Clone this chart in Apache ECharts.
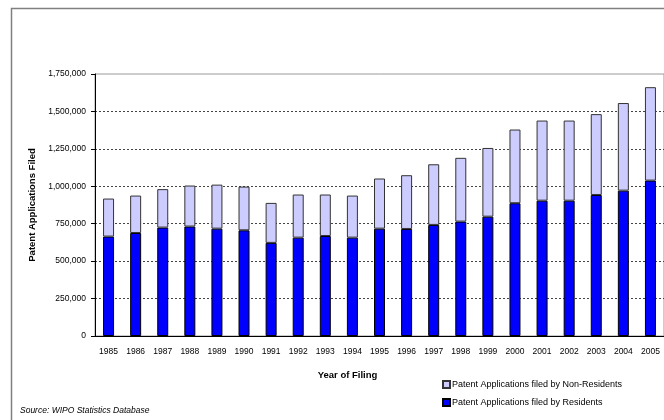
<!DOCTYPE html>
<html>
<head>
<meta charset="utf-8">
<script src="https://cdn.jsdelivr.net/npm/echarts@6/dist/echarts.min.js"></script>
<style>
  html, body { margin: 0; padding: 0; background: #fff; }
</style>
</head>
<body>
<!-- 图表容器 -->
<div id="main" style="width: 664px;height:420px;"></div>
<script>
// 年份
var years = ["1985", "1986", "1987", "1988", "1989", "1990", "1991", "1992", "1993", "1994", "1995",
  "1996", "1997", "1998", "1999", "2000", "2001", "2002", "2003", "2004", "2005"];
// 居民申请
var residents = [664000, 688000, 724000, 731000, 717000, 706000, 622000, 657000, 668000, 657000, 717000,
  715000, 742000, 764000, 797000, 887000, 904000, 904000, 942000, 971000, 1038000];
// 非居民申请
var nonResidents = [254000, 250000, 257000, 274000, 294000, 292000, 267000, 288000, 277000, 281000, 335000,
  359000, 405000, 426000, 459000, 492000, 535000, 535000, 540000, 585000, 624000];
var yTicks = [0, 250000, 500000, 750000, 1000000, 1250000, 1500000, 1750000];

var myChart = echarts.init(document.getElementById("main"));

var font = "Liberation Sans";

var option = {
  animation: false,
  backgroundColor: "#fff",
  textStyle: { fontFamily: font },
  grid: {
    left: 95,
    top: 74,
    width: 574,
    height: 262,
    show: true,
    borderColor: "#999",
    borderWidth: 1
  },
  legend: {
    orient: "vertical",
    left: 437,
    top: 375,
    itemWidth: 7,
    itemHeight: 7,
    itemGap: 9,
    icon: "rect",
    textStyle: { fontSize: 9, color: "#000", fontFamily: font, padding: [0, 0, 0, -3] },
    data: ["Patent Applications filed by Non-Residents", "Patent Applications filed by Residents"]
  },
  xAxis: {
    type: "category",
    data: years,
    name: "Year of Filing",
    nameLocation: "middle",
    nameGap: 34,
    nameTextStyle: { fontWeight: "bold", fontSize: 9.5, color: "#000", padding: [0, 64, 0, 0] },
    axisLine: { lineStyle: { color: "#000" } },
    axisTick: { length: 4, lineStyle: { color: "#000" } },
    axisLabel: { fontSize: 8.5, color: "#000", margin: 11 }
  },
  yAxis: {
    type: "value",
    min: 0,
    max: 1750000,
    interval: 250000,
    name: "Patent Applications Filed",
    nameLocation: "middle",
    nameGap: 58,
    nameTextStyle: { fontWeight: "bold", fontSize: 9.5, color: "#000" },
    axisLine: { show: true, lineStyle: { color: "#000" } },
    axisTick: { show: true, length: 4, lineStyle: { color: "#000" } },
    axisLabel: {
      fontSize: 8.5,
      color: "#000",
      margin: 9,
      formatter: function (v) {
        return yTicks.indexOf(v) >= 0 ? v.toLocaleString("en-US") : "";
      }
    },
    splitLine: {
      show: true,
      showMaxLine: false,
      lineStyle: { color: "#444", type: [2, 2], width: 1 }
    }
  },
  graphic: [
    {
      type: "polyline",
      shape: { points: [[11.5, 420], [11.5, 8.5], [664, 8.5]] },
      style: { stroke: "#808080", lineWidth: 1.5, fill: null }
    },
    {
      type: "text",
      left: 20,
      top: 406,
      style: {
        text: "Source: WIPO Statistics Database",
        font: "italic 8.5px Liberation Sans",
        fill: "#000"
      }
    }
  ],
  series: [
    {
      name: "Patent Applications filed by Residents",
      type: "bar",
      stack: "total",
      barWidth: 11,
      itemStyle: { color: "#0000FF", borderColor: "#000", borderWidth: 1 },
      data: residents
    },
    {
      name: "Patent Applications filed by Non-Residents",
      type: "bar",
      stack: "total",
      barWidth: 11,
      itemStyle: { color: "#CCCCFF", borderColor: "#333", borderWidth: 1 },
      data: nonResidents
    }
  ]
};

myChart.setOption(option);
</script>
</body>
</html>
